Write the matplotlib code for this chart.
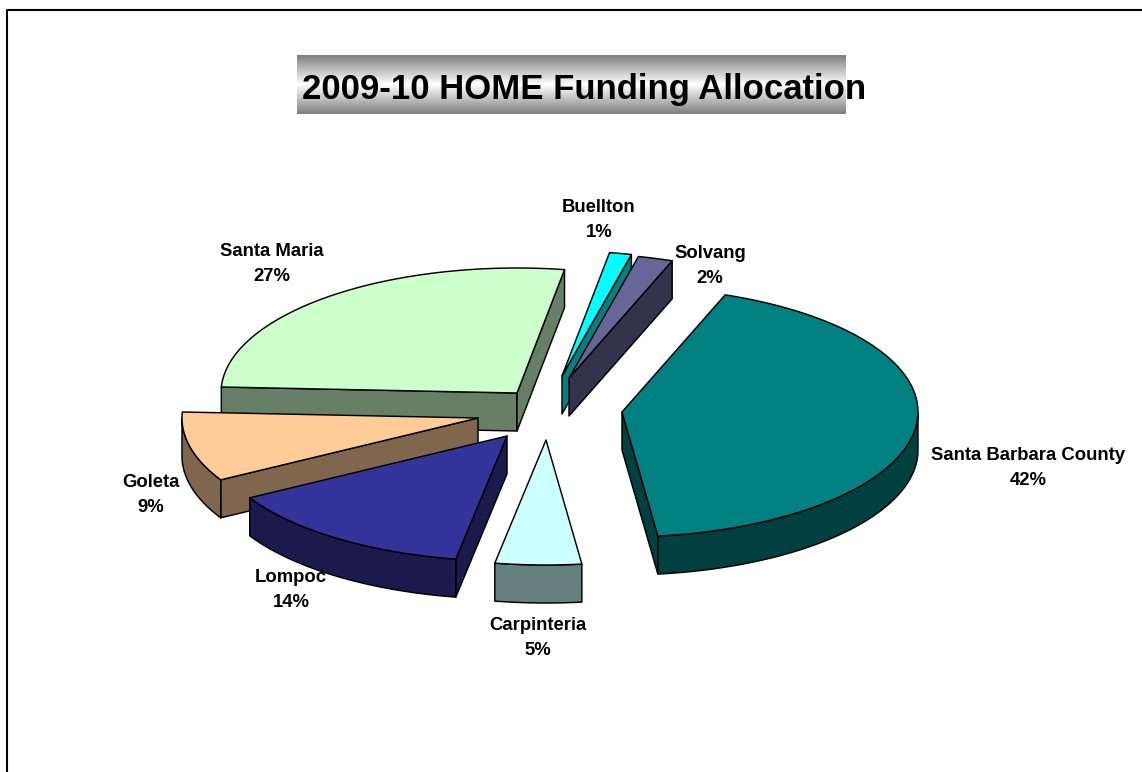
"""Exploded 3-D style pie of the 2009-10 HOME funding allocation."""
import numpy as np
import matplotlib
matplotlib.use("Agg")
import matplotlib.pyplot as plt
from matplotlib.patches import Polygon

plt.rcParams["font.family"] = ["Liberation Sans", "DejaVu Sans"]

# ---------------------------------------------------------------------------
# Data
# ---------------------------------------------------------------------------
names = ["Santa Barbara County", "Carpinteria", "Lompoc", "Goleta",
         "Santa Maria", "Buellton", "Solvang"]
shares = [42.4, 4.7, 14.0, 9.0, 26.8, 1.2, 1.9]
colors = ["#008080", "#CCFFFF", "#333399", "#FFCC99", "#CCFFCC", "#00FFFF", "#666699"]

# ---------------------------------------------------------------------------
# Layout (pixels, y grows downwards)
# ---------------------------------------------------------------------------
W, H = 1142, 772
RX, RY = 296, 125
DEPTH = 38
START_ANGLE = 69.6
EDGE_LW = 1.05

apex = {
    "Santa Barbara County": (622, 412),
    "Carpinteria": (546, 440),
    "Lompoc": (507, 436),
    "Goleta": (478, 418),
    "Santa Maria": (517, 393),
    "Buellton": (562, 376),
    "Solvang": (569, 378),
}
label_pos = {
    "Santa Barbara County": (1028, 468),
    "Carpinteria": (538, 638),
    "Lompoc": (291, 590),
    "Goleta": (151, 495),
    "Santa Maria": (272, 264),
    "Buellton": (599, 220),
    "Solvang": (710, 266),
}
# back slices first so the front ones overlap them
draw_order = ["Santa Maria", "Buellton", "Solvang", "Santa Barbara County",
              "Goleta", "Lompoc", "Carpinteria"]


def darken(color):
    return tuple(c / 2 for c in matplotlib.colors.to_rgb(color))


def draw_slice(ax, name, a_start, a_end, color):
    """a_start > a_end: the pie runs clockwise, angles are on the ellipse parameter."""
    x0, y0 = apex[name]
    t = np.radians(np.linspace(a_start, a_end, 120))
    arc_x = x0 + RX * np.cos(t)
    arc_y = y0 - RY * np.sin(t)
    mid_x, mid_y = arc_x[60] - x0, arc_y[60] - y0
    side = darken(color)
    style = dict(edgecolor="black", linewidth=EDGE_LW, joinstyle="round")

    # radial walls, only those turned towards the viewer
    for px, py in ((arc_x[0], arc_y[0]), (arc_x[-1], arc_y[-1])):
        nx, ny = -(py - y0), px - x0
        if nx * mid_x + ny * mid_y > 0:
            nx, ny = -nx, -ny
        if ny > 0:
            wall = [(x0, y0), (px, py), (px, py + DEPTH), (x0, y0 + DEPTH)]
            ax.add_patch(Polygon(wall, closed=True, facecolor=side, zorder=1, **style))

    # outer rim, front half of the ellipse only
    front = np.sin(t) < 0
    if front.any():
        rx, ry = arc_x[front], arc_y[front]
        rim = np.r_[np.c_[rx, ry], np.c_[rx[::-1], ry[::-1] + DEPTH]]
        ax.add_patch(Polygon(rim, closed=True, facecolor=side, zorder=1, **style))

    top = np.r_[[[x0, y0]], np.c_[arc_x, arc_y]]
    ax.add_patch(Polygon(top, closed=True, facecolor=color, zorder=1, **style))


fig = plt.figure(figsize=(W / 100, H / 100), dpi=100)
ax = fig.add_axes([0, 0, 1, 1])

# title band: grey-white-grey vertical gradient behind the heading
band = np.abs(np.linspace(-1, 1, 59))[:, None]
ax.imshow(0.5 + 0.5 * (1 - band), cmap="gray", vmin=0, vmax=1, aspect="auto",
          extent=(297, 846, 114, 55), zorder=0, interpolation="bilinear")
ax.text(584, 89, "2009-10 HOME Funding Allocation", fontsize=25.05, fontweight="bold",
        ha="center", va="center", zorder=3)

# frame runs off the bottom and right of the page
ax.plot([7, 7, W], [H, 10, 10], color="black", lw=1.5, zorder=0.5)

angle = START_ANGLE
spans = {}
for name, share in zip(names, shares):
    sweep = share / sum(shares) * 360
    spans[name] = (angle, angle - sweep)
    angle -= sweep

for name in draw_order:
    i = names.index(name)
    draw_slice(ax, name, *spans[name], colors[i])

for name, share in zip(names, shares):
    x, y = label_pos[name]
    ax.text(x, y, f"{name}\n{share:.0f}%", fontsize=13.3, fontweight="bold", ha="center",
            va="center", linespacing=1.62, zorder=4)

ax.set_xlim(0, W)
ax.set_ylim(H, 0)
ax.axis("off")

fig.savefig("out.png", dpi=100, facecolor="white")
plt.close(fig)
